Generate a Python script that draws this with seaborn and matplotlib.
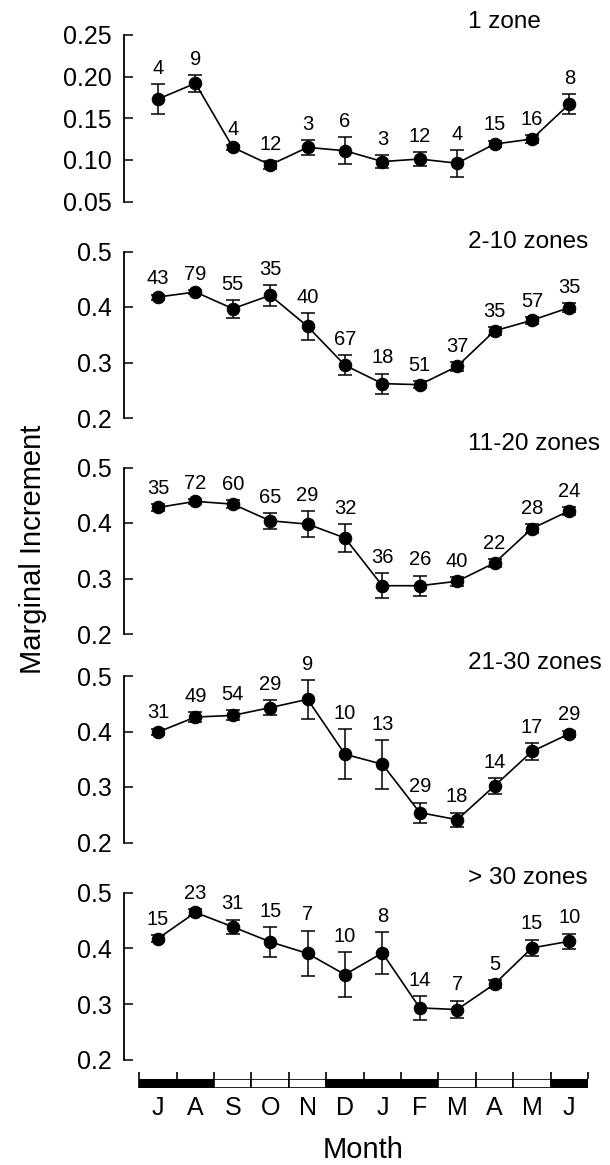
import numpy as np
import pandas as pd
import matplotlib
matplotlib.use("Agg")
import matplotlib.pyplot as plt
import seaborn as sns

# ---------------- data ----------------
months = ["J", "A", "S", "O", "N", "D", "J", "F", "M", "A", "M", "J"]
zone_labels = ["1 zone", "2-10 zones", "11-20 zones", "21-30 zones", "> 30 zones"]

mi_1 = [0.173, 0.192, 0.115, 0.094, 0.115, 0.111, 0.098, 0.101, 0.096, 0.119, 0.125, 0.167]
se_1 = [0.018, 0.010, 0.003, 0.005, 0.009, 0.016, 0.008, 0.008, 0.016, 0.004, 0.005, 0.012]
n_1 = [4, 9, 4, 12, 3, 6, 3, 12, 4, 15, 16, 8]

mi_2 = [0.418, 0.427, 0.397, 0.421, 0.365, 0.295, 0.262, 0.260, 0.293, 0.357, 0.376, 0.399]
se_2 = [0.0045, 0.004, 0.016, 0.019, 0.024, 0.018, 0.018, 0.006, 0.008, 0.007, 0.006, 0.008]
n_2 = [43, 79, 55, 35, 40, 67, 18, 51, 37, 35, 57, 35]

mi_3 = [0.428, 0.439, 0.434, 0.404, 0.398, 0.373, 0.287, 0.287, 0.295, 0.328, 0.390, 0.422]
se_3 = [0.006, 0.004, 0.007, 0.014, 0.023, 0.025, 0.023, 0.018, 0.008, 0.007, 0.0075, 0.007]
n_3 = [35, 72, 60, 65, 29, 32, 36, 26, 40, 22, 28, 24]

mi_4 = [0.399, 0.426, 0.429, 0.443, 0.458, 0.359, 0.341, 0.254, 0.241, 0.302, 0.364, 0.396]
se_4 = [0.006, 0.009, 0.009, 0.013, 0.035, 0.045, 0.044, 0.018, 0.013, 0.014, 0.015, 0.0055]
n_4 = [31, 49, 54, 29, 9, 10, 13, 29, 18, 14, 17, 29]

mi_5 = [0.418, 0.465, 0.439, 0.412, 0.391, 0.353, 0.392, 0.293, 0.290, 0.336, 0.401, 0.413]
se_5 = [0.0066, 0.0066, 0.013, 0.027, 0.041, 0.040, 0.038, 0.021, 0.016, 0.007, 0.015, 0.014]
n_5 = [15, 23, 31, 15, 7, 10, 8, 14, 7, 5, 15, 10]

# dark (1) / light (0) months in the strip below the x axis
strip_dark = [1, 1, 0, 0, 0, 1, 1, 1, 0, 0, 0, 1]

y_ticks_1 = [0.05, 0.10, 0.15, 0.20, 0.25]
y_ticks_other = [0.2, 0.3, 0.4, 0.5]

series = [(mi_1, se_1, n_1), (mi_2, se_2, n_2), (mi_3, se_3, n_3),
          (mi_4, se_4, n_4), (mi_5, se_5, n_5)]

# ---------------- style ----------------
sns.set_theme(style="white")
plt.rcParams["font.family"] = ["Liberation Sans", "DejaVu Sans"]

W, H = 610, 1165
fig = plt.figure(figsize=(W / 100, H / 100), dpi=100)

def fx(px):
    return px / W

def fy(py):
    return 1 - py / H

ax_left, ax_right = 124, 588
panel_tops = [35, 251.5, 467.5, 676, 893]
panel_h = 166.5
x = np.arange(len(months))
xlim = (-0.91, 11.5)

title_y = [22, 242, 444, 663, 878]

for k, (mi, se, n) in enumerate(series):
    top = panel_tops[k]
    ax = fig.add_axes([fx(ax_left), fy(top + panel_h), fx(ax_right - ax_left), panel_h / H])
    df = pd.DataFrame({"pos": x, "mi": mi, "se": se, "n": n})
    ax.errorbar(df["pos"], df["mi"], yerr=df["se"], fmt="none", ecolor="black",
                elinewidth=1.1, capsize=5, capthick=1.1, clip_on=False, zorder=2)
    sns.lineplot(data=df, x="pos", y="mi", ax=ax, color="black", linewidth=1.2,
                 marker="o", markersize=9, markeredgecolor="black",
                 markerfacecolor="black", clip_on=False, zorder=3)
    for xi, yi, ei, ni in zip(df["pos"], df["mi"], df["se"], df["n"]):
        ax.annotate(str(ni), xy=(xi, yi + ei), xytext=(0, 4.5), textcoords="offset points",
                    ha="center", va="bottom", fontsize=14.5, color="black")
    ticks = y_ticks_1 if k == 0 else y_ticks_other
    ax.set_ylim(ticks[0], ticks[-1])
    ax.set_yticks(ticks)
    if k == 0:
        ax.set_yticklabels([f"{t:.2f}" for t in ticks])
    else:
        ax.set_yticklabels([f"{t:.1f}" for t in ticks])
    ax.set_xlim(*xlim)
    ax.set_xticks([])
    ax.set_xlabel("")
    ax.set_ylabel("")
    sns.despine(ax=ax, bottom=True)
    ax.spines["left"].set_linewidth(1.3)
    ax.spines["left"].set_color("black")
    ax.tick_params(axis="y", direction="in", length=6.5, width=1.1, pad=9,
                   labelsize=18, colors="black", left=True)
    ax.patch.set_alpha(0)
    fig.text(fx(468), fy(title_y[k]), zone_labels[k], ha="left", va="center",
             fontsize=17.5, color="black")

# ---------------- month strip ----------------
strip_top, strip_bot = 1079, 1088
axs = fig.add_axes([fx(ax_left), fy(strip_bot), fx(ax_right - ax_left), (strip_bot - strip_top) / H])
colors = ["black" if d else "white" for d in strip_dark]
axs.bar(x, [1] * len(x), width=1.0, bottom=0, color=colors, edgecolor="black",
        linewidth=1.2, align="center")
axs.set_xlim(*xlim)
axs.set_ylim(0, 1)
axs.vlines(np.arange(-0.5, 12.0, 1.0), 1, 1 + 7 / (strip_bot - strip_top),
           color="black", linewidth=1.2, clip_on=False)
for s in axs.spines.values():
    s.set_visible(False)
axs.set_yticks([])
axs.set_xticks(x)
axs.set_xticklabels(months)
axs.tick_params(axis="x", length=0, pad=6, labelsize=18, colors="black")
axs.patch.set_alpha(0)

fig.text(fx(363), fy(1150), "Month", ha="center", va="center", fontsize=21, color="black")
fig.text(fx(33), fy(549), "Marginal Increment", ha="center", va="center",
         rotation=90, fontsize=21, color="black")

fig.savefig("out.png", dpi=100, facecolor="white")
